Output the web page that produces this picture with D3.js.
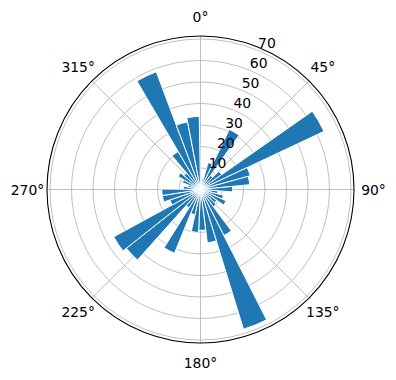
<!DOCTYPE html>
<html>
<head>
<meta charset="utf-8">
<script src="https://cdn.jsdelivr.net/npm/d3@7"></script>
<style>
  body { margin: 0; background: #fff; }
  text { font-family: "DejaVu Sans", sans-serif; }
</style>
</head>
<body>
<div id="chart"></div>
<script>
// bin centres (degrees, clockwise from north) and counts per bin
const dirDeg = [10.9, 20.7, 30.5, 40.3, 50.1, 59.9, 69.7, 79.5, 89.4, 99.2, 109.0, 118.8,
                128.6, 138.4, 148.2, 158.0, 167.8, 177.6, 187.5, 197.3, 207.1, 216.9, 226.7, 236.5,
                246.3, 256.1, 265.9, 275.7, 285.5, 295.3, 305.1, 314.9, 324.7, 334.5, 344.3, 354.1];
const counts = [5, 13, 31, 8, 12, 63.5, 24, 23, 15, 8, 11, 13,
                9, 10, 24, 68, 25, 19, 20, 12, 32, 10, 44, 46,
                15, 18, 18, 8, 6, 9, 12, 10, 20.5, 58.5, 32, 34];
const rTicks = [10, 20, 30, 40, 50, 60, 70];
const thetaTicks = [0, 45, 90, 135, 180, 225, 270, 315];
const rMax = 71.4;

const W = 396, H = 380;
const cx = 200.5, cy = 189.5, R = 153.5;
const rad = d => d * Math.PI / 180;

const svg = d3.select("#chart").append("svg")
    .attr("width", W)
    .attr("height", H);

const g = svg.append("g").attr("transform", `translate(${cx},${cy})`);

const r = d3.scaleLinear().domain([0, rMax]).range([0, R]);
const binW = dirDeg[1] - dirDeg[0];

// grid circles
g.selectAll(".rgrid")
    .data(rTicks)
    .enter().append("circle")
    .attr("r", d => r(d))
    .attr("fill", "none")
    .attr("stroke", "#b0b0b0")
    .attr("stroke-width", 0.8);

// grid spokes
g.selectAll(".tgrid")
    .data(thetaTicks)
    .enter().append("line")
    .attr("x1", 0).attr("y1", 0)
    .attr("x2", d => R * Math.sin(rad(d)))
    .attr("y2", d => -R * Math.cos(rad(d)))
    .attr("stroke", "#b0b0b0")
    .attr("stroke-width", 0.8);

// bars
const arc = d3.arc()
    .innerRadius(0)
    .outerRadius(d => r(d.v))
    .startAngle(d => rad(d.a - binW / 2))
    .endAngle(d => rad(d.a + binW / 2));

g.selectAll(".bar")
    .data(dirDeg.map((a, i) => ({ a: a, v: counts[i] })))
    .enter().append("path")
    .attr("d", arc)
    .attr("fill", "#1f77b4")
    .attr("stroke", "#fff")
    .attr("stroke-width", 1);

// outer frame
g.append("circle")
    .attr("r", R)
    .attr("fill", "none")
    .attr("stroke", "#000")
    .attr("stroke-width", 1.1);

// theta labels
g.selectAll(".tlab")
    .data(thetaTicks)
    .enter().append("text")
    .attr("x", d => 173 * Math.sin(rad(d)))
    .attr("y", d => -173 * Math.cos(rad(d)))
    .attr("text-anchor", "middle")
    .attr("dominant-baseline", "central")
    .style("font-size", "13.9px")
    .text(d => d + "°");

// radial labels along 22.5°
g.selectAll(".rlab")
    .data(rTicks)
    .enter().append("text")
    .attr("x", d => r(d) * Math.sin(rad(22.5)))
    .attr("y", d => -r(d) * Math.cos(rad(22.5)) - 2)
    .attr("text-anchor", "start")
    .style("font-size", "13.9px")
    .text(d => d);
</script>
</body>
</html>
